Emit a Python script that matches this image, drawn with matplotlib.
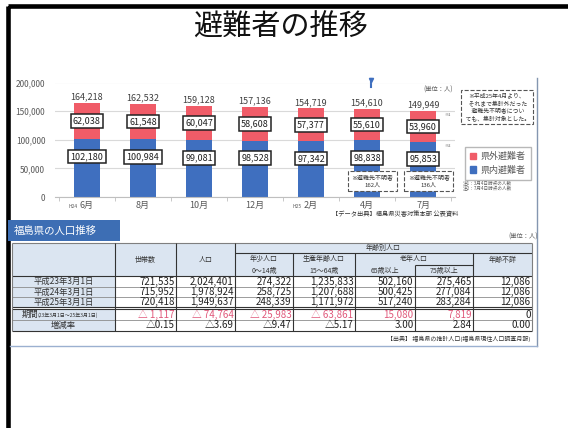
import numpy as np
import matplotlib
matplotlib.use("Agg")
import matplotlib.pyplot as plt
from matplotlib.patches import Rectangle, Patch

plt.rcParams['font.family'] = ['Noto Sans CJK JP', 'DejaVu Sans']

W, H = 568, 428
BLUE = '#3f6fbf'
RED = '#f05c68'
GRAY = '#595959'

# 避難者数の推移
months = ['6月', '8月', '10月', '12月', '2月', '4月', '7月']
era_marks = ['H24', '', '', '', 'H25', '', '']
outside = [62038, 61548, 60047, 58608, 57377, 55610, 53960]   # 県外避難者
inside = [102180, 100984, 99081, 98528, 97342, 98838, 95853]  # 県内避難者
unknown = [0, 0, 0, 0, 0, 162, 136]                            # 避難先不明者
yticks = [0, 50000, 100000, 150000, 200000]

# 福島県の人口推移
row_labels = ['平成23年3月1日', '平成24年3月1日', '平成25年3月1日', '期間', '増減率']
households = ['721,535', '715,952', '720,418', '△ 1,117', '△0.15']
population = ['2,024,401', '1,978,924', '1,949,637', '△ 74,764', '△3.69']
young = ['274,322', '258,725', '248,339', '△ 25,983', '△9.47']
working = ['1,235,833', '1,207,688', '1,171,972', '△ 63,861', '△5.17']
elderly65 = ['502,160', '500,425', '517,240', '15,080', '3.00']
elderly75 = ['275,465', '277,084', '283,284', '7,819', '2.84']
age_unknown = ['12,086', '12,086', '12,086', '0', '0.00']

fig = plt.figure(figsize=(W / 100, H / 100), dpi=100)

# pixel canvas for the slide frame, notes and table
bg = fig.add_axes([0, 0, 1, 1], zorder=0)
bg.set_xlim(0, W)
bg.set_ylim(H, 0)
bg.axis('off')

bg.add_patch(Rectangle((8, 5.5), 700, 600, fill=False, ec='black', lw=3.3))
bg.text(280, 28, '避難者の推移', fontsize=21, ha='center', va='center', color='#111')

# ---- bar chart ----
ax = fig.add_axes([55 / W, 1 - 197 / H, 400 / W, 114.5 / H], zorder=2)
ax.set_facecolor('none')
x = np.arange(len(months))
totals = [a + b + c for a, b, c in zip(outside, inside, unknown)]
bw = 0.45
ax.bar(x, inside, width=bw, color=BLUE, zorder=2)
ax.bar(x, outside, bottom=inside, width=bw, color=RED, zorder=2)

ax.set_xlim(-0.57, len(months) - 0.43)
ax.set_ylim(0, 200000)
ax.set_yticks(yticks)
ax.set_yticklabels([f'{v:,}' for v in yticks])
ax.set_xticks(x)
ax.set_xticklabels(months)
ax.set_xticks(np.arange(len(months) + 1) - 0.5, minor=True)
ax.grid(axis='y', color='#d9d9d9', lw=0.8, zorder=0)
for s in ['top', 'right', 'left']:
    ax.spines[s].set_visible(False)
ax.spines['bottom'].set_color('#bfbfbf')
ax.tick_params(axis='y', length=0, pad=7, labelsize=6, labelcolor=GRAY)
ax.tick_params(axis='x', which='major', length=0, pad=3, labelsize=6.5, labelcolor=GRAY)
ax.tick_params(axis='x', which='minor', length=3, color='#bfbfbf')

for i, era in enumerate(era_marks):
    if era:
        ax.annotate(era, xy=(i, 0), xycoords=('data', 'axes fraction'),
                    xytext=(-7, -5), textcoords='offset points',
                    ha='right', va='top', fontsize=3.5, color=GRAY)

box = dict(boxstyle='square,pad=0.25', fc='white', ec='#222', lw=1.1)
for i in range(len(months)):
    ax.text(i, totals[i] + 2500, f'{totals[i]:,}', ha='center', va='bottom',
            fontsize=6.5, color='#404040')
    ax.text(i, inside[i] + outside[i] / 2, f'{outside[i]:,}', ha='center',
            va='center', fontsize=6.5, color='#222', bbox=box, zorder=4)
    ax.text(i, inside[i] * 0.69, f'{inside[i]:,}', ha='center',
            va='center', fontsize=6.5, color='#222', bbox=box, zorder=4)
    if unknown[i]:
        ax.text(i + 0.1, 28000, f'※避難先不明者\n{unknown[i]}人', ha='center',
                va='center', fontsize=4.3, color='#333', linespacing=1.4,
                bbox=dict(boxstyle='square,pad=0.6', fc='white', ec='#555',
                          lw=0.8, ls='--'), zorder=4)

ax.legend(handles=[Patch(color=RED, label='県外避難者'),
                   Patch(color=BLUE, label='県内避難者')],
          loc='upper left', bbox_to_anchor=(460 / W, 1 - 142 / H),
          bbox_transform=fig.transFigure, fontsize=6.5, labelcolor=GRAY,
          frameon=True, fancybox=False, edgecolor='#a6a6a6',
          handlelength=0.7, handleheight=0.7, handletextpad=0.5,
          borderpad=0.6, labelspacing=0.5)

# notes around the chart
bg.plot([371, 371], [79, 87], color=BLUE, lw=1.5)
bg.plot([371], [80], marker='v', color=BLUE, ms=3)
bg.text(438, 90, '(単位：人)', fontsize=4.5, ha='center', va='center', color=GRAY)
bg.text(497, 107, '※平成25年4月より、\n  それまで集計外だった\n  避難先不明者につい\n  ても、集計対象とした。',
        fontsize=4.2, ha='center', va='center', color='#333', linespacing=1.35,
        bbox=dict(boxstyle='square,pad=0.5', fc='white', ec='#555', lw=0.8, ls='--'))
bg.text(448, 115, '※1', fontsize=3, ha='center', va='center', color=GRAY)
bg.text(448, 146, '※2', fontsize=3, ha='center', va='center', color=GRAY)
bg.text(463, 183, '注1：3月4日時点の人数', fontsize=3.3, ha='left', va='center', color=GRAY)
bg.text(463, 188, '注2：7月4日時点の人数', fontsize=3.3, ha='left', va='center', color=GRAY)
bg.text(395, 214, '【データ出典】福島県災害対策本部 公表資料', fontsize=4.5,
        ha='center', va='center', color='#333')
bg.plot([537, 537], [78, 346], color='#8496b0', lw=1)
bg.plot([10, 537], [346, 346], color='#9bb0d0', lw=1)

# ---- population table ----
bg.add_patch(Rectangle((8, 220), 112, 21, fc='#3d6eb4', ec='none'))
bg.text(14, 230.5, '福島県の人口推移', fontsize=7.5, color='white', ha='left', va='center')
bg.text(523, 237, '(単位：人)', fontsize=4.5, ha='center', va='center', color=GRAY)

col_x = [12, 115, 176, 235, 293, 355, 415, 473, 532]
h_top, h_mid, h_sub, h_bot = 243, 253, 265, 276
rows = [(276, 287), (287, 297), (297, 307), (309, 320), (320, 331)]
t_bot = rows[-1][1]
HEAD = '#dbe5f1'
DARK = '#333333'
LIGHT = '#8c8c8c'

bg.add_patch(Rectangle((col_x[0], h_top), col_x[-1] - col_x[0], h_bot - h_top, fc=HEAD, ec='none'))
bg.add_patch(Rectangle((col_x[0], h_bot), col_x[1] - col_x[0], t_bot - h_bot, fc=HEAD, ec='none'))
bg.add_patch(Rectangle((col_x[0], rows[2][1]), col_x[-1] - col_x[0], rows[3][0] - rows[2][1], fc='white', ec='none'))

def hline(y, x0, x1, c=DARK, lw=0.8):
    bg.plot([x0, x1], [y, y], color=c, lw=lw, solid_capstyle='butt')

def vline(x, y0, y1, c=DARK, lw=0.8):
    bg.plot([x, x], [y0, y1], color=c, lw=lw, solid_capstyle='butt')

hline(h_top, col_x[0], col_x[-1], c='#7f7f7f')
hline(h_mid, col_x[3], col_x[-1])
hline(h_sub, col_x[6], col_x[7])
hline(h_bot, col_x[0], col_x[-1])
for y in [rows[0][1], rows[1][1], rows[3][1]]:
    hline(y, col_x[0], col_x[-1], c=LIGHT, lw=0.6)
hline(rows[2][1], col_x[0], col_x[-1])
hline(rows[3][0], col_x[0], col_x[-1])
hline(t_bot, col_x[0], col_x[-1])
for cx in [col_x[0], col_x[-1]]:
    vline(cx, h_top, t_bot, c='#7f7f7f')
for cx in col_x[1:4]:
    vline(cx, h_top, t_bot)
for cx in [col_x[4], col_x[5], col_x[7]]:
    vline(cx, h_mid, t_bot)
vline(col_x[6], h_sub, t_bot)

hs = 5
def ctext(x0, x1, y, s, **kw):
    bg.text((x0 + x1) / 2, y, s, ha='center', va='center', fontsize=hs, color=DARK, **kw)

ctext(col_x[1], col_x[2], 260, '世帯数')
ctext(col_x[2], col_x[3], 260, '人口')
ctext(col_x[3], col_x[-1], 248, '年齢別人口')
ctext(col_x[3], col_x[4], 259.5, '年少人口')
ctext(col_x[3], col_x[4], 270.5, '0～14歳')
ctext(col_x[4], col_x[5], 259.5, '生産年齢人口')
ctext(col_x[4], col_x[5], 270.5, '15～64歳')
ctext(col_x[5], col_x[7], 258.5, '老年人口')
ctext(col_x[5], col_x[6], 270.5, '65歳以上')
ctext(col_x[6], col_x[7], 270.5, '75歳以上')
ctext(col_x[7], col_x[8], 260, '年齢不詳')

columns = [households, population, young, working, elderly65, elderly75, age_unknown]
for r, (y0, y1) in enumerate(rows):
    yc = (y0 + y1) / 2
    if row_labels[r] == '期間':
        bg.text(22, yc, row_labels[r], fontsize=6, ha='left', va='center', color=DARK)
        bg.text(37, yc + 0.5, '(23年3月1日～25年3月1日)', fontsize=3.6, ha='left',
                va='center', color=DARK)
    else:
        bg.text((col_x[0] + col_x[1]) / 2, yc, row_labels[r], fontsize=6,
                ha='center', va='center', color=DARK)
    for c, vals in enumerate(columns):
        v = vals[r]
        color = '#e0587a' if r == 3 and v != '0' else '#222'
        bg.text(col_x[c + 2] - 1.5, yc, v, fontsize=7, ha='right', va='center', color=color)

bg.text(530, 339, '【出典】 福島県の推計人口(福島県現住人口調査月報)', fontsize=4.3,
        ha='right', va='center', color='#333')

fig.savefig('out.png', dpi=100)
